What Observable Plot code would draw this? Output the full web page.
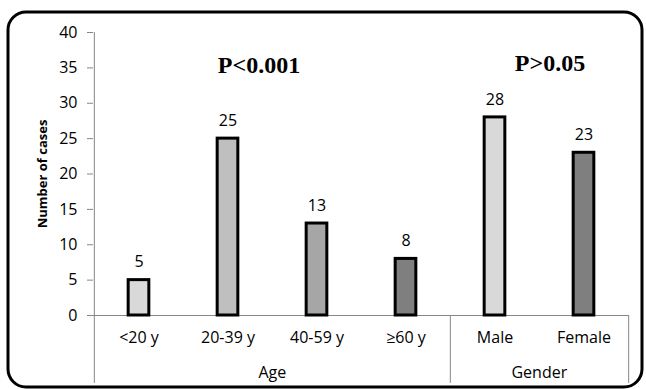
<!DOCTYPE html>
<html><head><meta charset="utf-8">
<script src="https://cdn.jsdelivr.net/npm/d3@7"></script>
<script src="https://cdn.jsdelivr.net/npm/@observablehq/plot@0.6"></script>
<style>body{margin:0;background:#fff}</style>
</head><body><div id="chart"></div>
<script>
const categories = ["<20 y", "20-39 y", "40-59 y", "≥60 y", "Male", "Female"];
const counts = [5, 25, 13, 8, 28, 23];
const barColors = ["#d9d9d9", "#bfbfbf", "#a6a6a6", "#7f7f7f", "#d9d9d9", "#7f7f7f"];
const yTicks = [0, 5, 10, 15, 20, 25, 30, 35, 40];
const groupLabels = ["Age", "Gender"];
const groupEdgeAt = ["40-59 y", "Female"];      // group label sits on left edge of this band
const pAgeLabel = "P<0.001";
const pGenderLabel = "P>0.05";
const pAgeY = 35.3;
const pGenderY = 35.6;

const W = 646, H = 389, ML = 93, MR = 17, MT = 32, MB = 74;
const bw = (W - ML - MR) / categories.length;
const bars = categories.map((c, i) => ({cat: c, n: counts[i], col: barColors[i]}));
const gray = "#868686";
const FS = 16;

const plot = Plot.plot({
  width: W, height: H,
  marginLeft: ML, marginRight: MR, marginTop: MT, marginBottom: MB,
  style: {fontFamily: "'Open Sans', sans-serif", fontSize: FS + "px", color: "black", background: "white"},
  x: {domain: categories, padding: 0, axis: null},
  y: {domain: [0, 40], axis: null},
  marks: [
    Plot.ruleY([0], {stroke: gray, strokeWidth: 1}),
    Plot.ruleX(["<20 y"], {x: d => d, dx: -bw / 2, y1: -9.6, y2: 40, stroke: gray}),
    Plot.ruleX(["Male"], {x: d => d, dx: -bw / 2, y1: -9.6, y2: 0, stroke: gray}),
    Plot.ruleX(["Female"], {x: d => d, dx: bw / 2, y1: -9.6, y2: 0, stroke: gray}),
    Plot.axisY({ticks: yTicks, tickSize: 6, tickPadding: 10, stroke: gray, fontSize: FS, label: null, tickFormat: d => d}),
    Plot.barY(bars, {x: "cat", y: "n", fill: "col", stroke: "black", strokeWidth: 3, insetLeft: (bw - 21) / 2, insetRight: (bw - 21) / 2}),
    Plot.text(bars, {x: "cat", y: "n", text: d => String(d.n), dy: -18, lineAnchor: "middle", fontSize: FS}),
    Plot.text(categories, {x: d => d, y: 0, text: d => d, dy: 22, lineAnchor: "middle", fontSize: FS}),
    Plot.text(groupLabels, {x: (d, i) => groupEdgeAt[i], y: 0, text: d => d, dx: -bw / 2, dy: 57, lineAnchor: "middle", fontSize: FS}),
    Plot.text([pAgeLabel], {x: () => "20-39 y", y: () => pAgeY, text: d => d, dx: 31, lineAnchor: "middle", fontFamily: "'Liberation Serif', 'Times New Roman', serif", fontWeight: "bold", fontSize: 24}),
    Plot.text([pGenderLabel], {x: () => "Female", y: () => pGenderY, text: d => d, dx: -34, lineAnchor: "middle", fontFamily: "'Liberation Serif', 'Times New Roman', serif", fontWeight: "bold", fontSize: 24}),
    Plot.text(["Number of cases"], {frameAnchor: "left", text: d => d, rotate: -90, dx: -51, fontWeight: "bold", fontSize: 13, textAnchor: "middle"})
  ]
});
document.getElementById("chart").appendChild(plot);
d3.select(plot).append("rect").attr("x", 8).attr("y", 12).attr("width", 634).attr("height", 375)
  .attr("rx", 18).attr("fill", "none").attr("stroke", "black").attr("stroke-width", 3);
</script>
</body></html>
